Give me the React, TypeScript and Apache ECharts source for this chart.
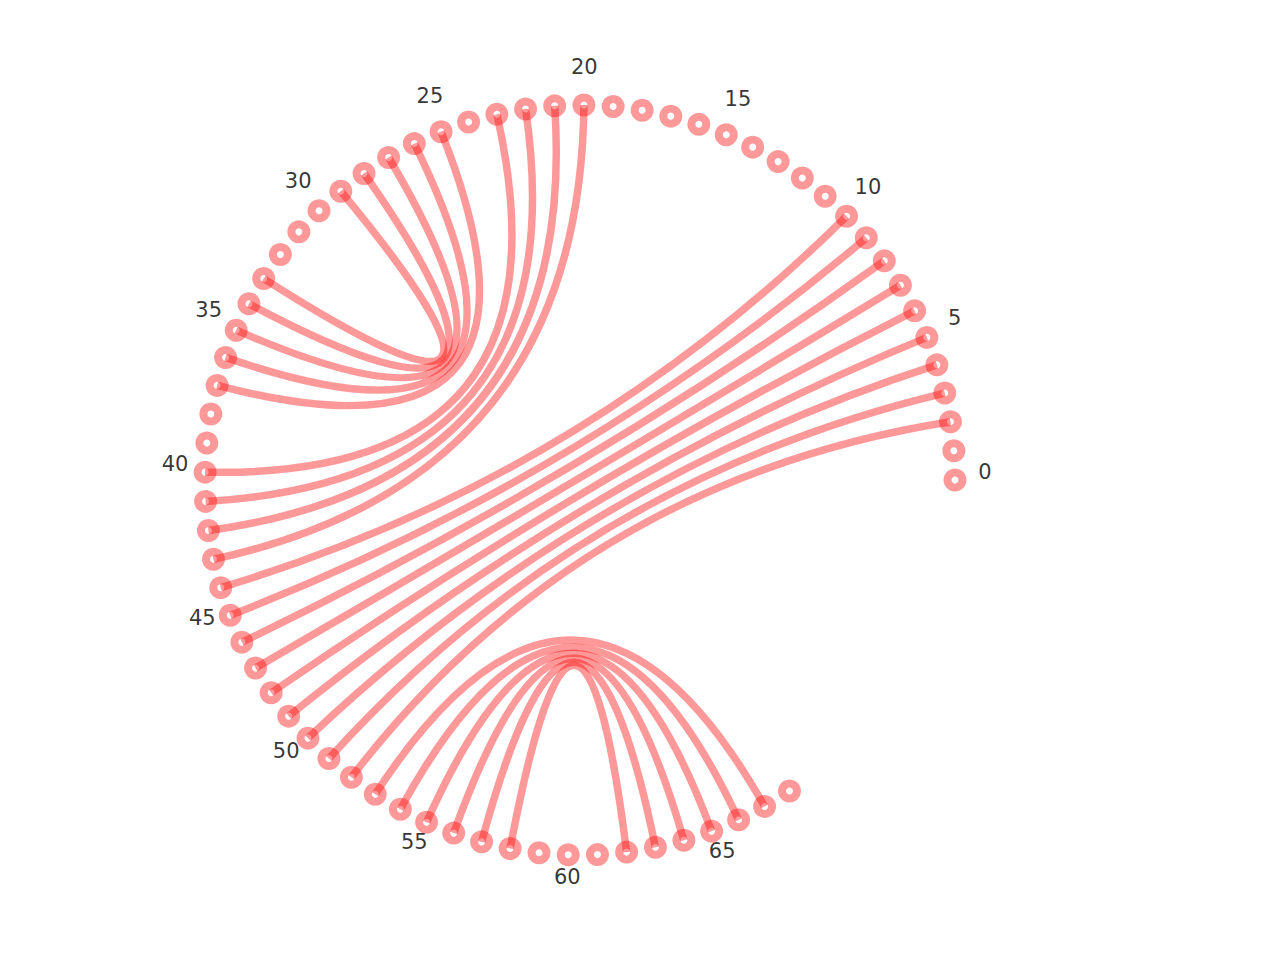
import { useEffect, useRef } from "react";
import * as echarts from "echarts";

// circular layout: nodes 0..68, evenly spaced counter-clockwise from 3 o'clock
const NODE_COUNT = 69;
const ANGLE_STEP = 4.47; // degrees between neighbouring nodes

const TICK_NODES = [0, 5, 10, 15, 20, 25, 30, 35, 40, 45, 50, 55, 60, 65];
const TICK_LABELS = ["0", "5", "10", "15", "20", "25", "30", "35", "40", "45", "50", "55", "60", "65"];

const EDGE_SOURCES = [2, 3, 4, 5, 6, 7, 8, 9, 10, 20, 21, 22, 23, 25, 26, 27, 28, 29, 53, 54, 55, 56, 57, 58];
const EDGE_TARGETS = [52, 51, 50, 49, 48, 47, 46, 45, 44, 43, 42, 41, 40, 37, 36, 35, 34, 33, 67, 66, 65, 64, 63, 62];

const LABEL_R = 1.08;
const COLOR = "rgba(255,0,0,0.4)";

export default function App() {
  const chartRef = useRef<HTMLDivElement | null>(null);

  useEffect(() => {
    if (!chartRef.current) return;
    const chart = echarts.init(chartRef.current, undefined, { renderer: "svg" });

    const nodes = Array.from({ length: NODE_COUNT }, (_, i) => [1, i * ANGLE_STEP]);
    const edges = EDGE_SOURCES.map((s, k) => [1, s * ANGLE_STEP, 1, EDGE_TARGETS[k] * ANGLE_STEP]);
    const labels = TICK_NODES.map((n, k) => ({
      value: [LABEL_R, n * ANGLE_STEP],
      name: TICK_LABELS[k],
    }));

    chart.setOption({
      animation: false,
      polar: { center: [580, 480], radius: 375 * LABEL_R },
      angleAxis: {
        type: "value",
        min: 0,
        max: 360,
        startAngle: 0,
        clockwise: false,
        show: false,
      },
      radiusAxis: { type: "value", min: 0, max: LABEL_R, show: false },
      series: [
        {
          type: "custom",
          coordinateSystem: "polar",
          data: nodes,
          z: 1,
          renderItem: (params: any, api: any) => {
            const p = api.coord([api.value(0), api.value(1)]);
            return {
              type: "ring",
              shape: { cx: p[0], cy: p[1], r: 11.5, r0: 3.5 },
              style: { fill: COLOR },
            };
          },
        },
        {
          type: "custom",
          coordinateSystem: "polar",
          data: edges,
          z: 2,
          renderItem: (params: any, api: any) => {
            const p1 = api.coord([api.value(0), api.value(1)]);
            const p2 = api.coord([api.value(2), api.value(3)]);
            const c = api.coord([0, 0]);
            return {
              type: "bezierCurve",
              shape: { x1: p1[0], y1: p1[1], x2: p2[0], y2: p2[1], cpx1: c[0], cpy1: c[1] },
              style: { stroke: COLOR, lineWidth: 7.5, fill: "none", lineCap: "butt" },
            };
          },
        },
        {
          type: "scatter",
          coordinateSystem: "polar",
          data: labels,
          symbolSize: 0,
          z: 3,
          label: {
            show: true,
            position: "inside",
            formatter: (p: any) => p.name,
            color: "#000000",
            fontSize: 21,
            fontFamily: "DejaVu Sans",
            offset: [0, -8],
          },
          emphasis: { disabled: true },
        },
      ],
    });

    return () => chart.dispose();
  }, []);

  return (
    <div
      ref={chartRef}
      style={{ position: "absolute", left: 0, top: 0, width: 1280, height: 960, background: "#fff" }}
    />
  );
}
